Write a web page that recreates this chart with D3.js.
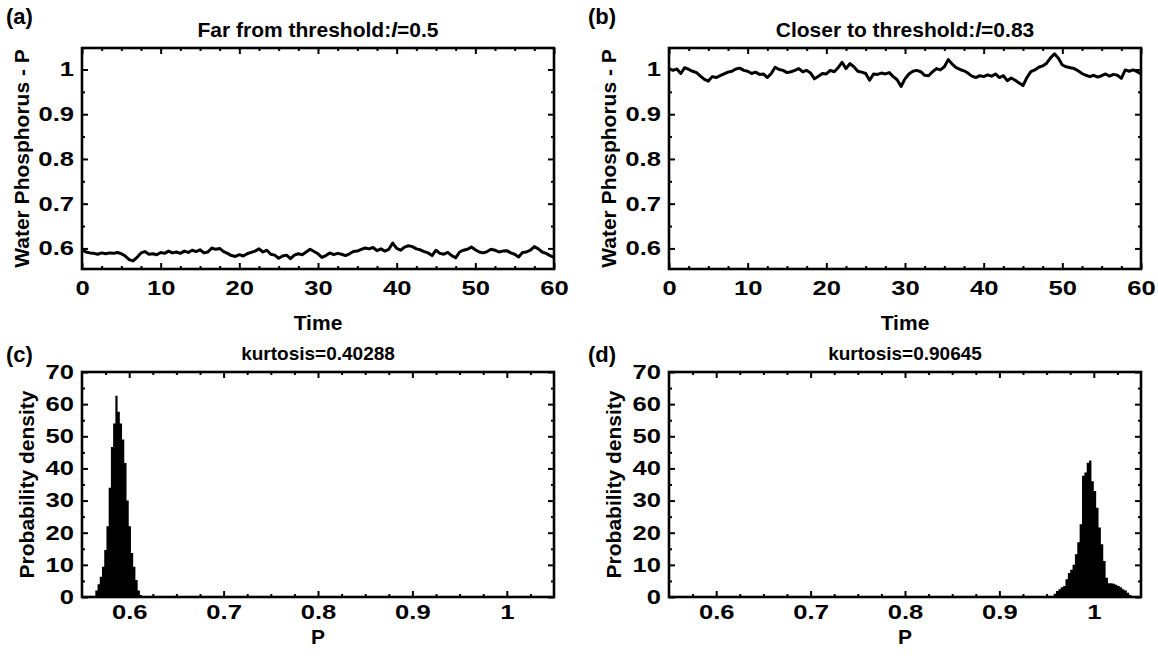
<!DOCTYPE html>
<html>
<head>
<meta charset="utf-8">
<script src="https://cdn.jsdelivr.net/npm/d3@7/dist/d3.min.js"></script>
<style>
  body { margin: 0; background: #fff; }
  svg { font-family: "Liberation Sans", Arial, sans-serif; font-weight: bold; }
  .tick line { stroke: #000; stroke-width: 2; }
</style>
</head>
<body>
<svg id="chart" width="1158" height="661"></svg>
<script>
// time axis of the two series (step 0.5)
const timeStep = 0.5;

// (a) far from threshold, l = 0.5
const seriesFar = [
  0.598, 0.592, 0.590, 0.589, 0.587, 0.590, 0.588, 0.590, 0.589, 0.591,
  0.588, 0.583, 0.575, 0.572, 0.580, 0.590, 0.593, 0.587, 0.588, 0.586,
  0.591, 0.589, 0.594, 0.590, 0.592, 0.589, 0.594, 0.591, 0.596, 0.593,
  0.597, 0.590, 0.592, 0.601, 0.598, 0.600, 0.593, 0.589, 0.584, 0.582,
  0.586, 0.583, 0.588, 0.591, 0.594, 0.599, 0.592, 0.596, 0.587, 0.585,
  0.578, 0.583, 0.585, 0.577, 0.585, 0.588, 0.586, 0.592, 0.598, 0.593,
  0.588, 0.580, 0.584, 0.590, 0.586, 0.589, 0.587, 0.584, 0.588, 0.593,
  0.594, 0.598, 0.601, 0.599, 0.602, 0.595, 0.599, 0.594, 0.598, 0.612,
  0.600, 0.596, 0.603, 0.606, 0.604, 0.599, 0.597, 0.593, 0.590, 0.584,
  0.596, 0.589, 0.587, 0.591, 0.584, 0.579, 0.592, 0.596, 0.598, 0.603,
  0.597, 0.592, 0.590, 0.593, 0.598, 0.596, 0.592, 0.594, 0.595, 0.590,
  0.587, 0.581, 0.591, 0.592, 0.596, 0.604, 0.599, 0.592, 0.589, 0.584,
  0.580
];

// (b) closer to threshold, l = 0.83
const seriesClose = [
  1.002, 0.998, 1.001, 0.991, 1.004, 1.000, 0.996, 0.993, 0.985, 0.978,
  0.974, 0.984, 0.982, 0.986, 0.990, 0.994, 0.996, 1.001, 1.003, 0.998,
  0.996, 0.991, 0.994, 0.989, 0.990, 0.982, 0.991, 1.005, 1.000, 0.998,
  0.993, 0.995, 0.998, 1.002, 0.995, 0.998, 0.992, 0.979, 0.985, 0.991,
  0.990, 0.998, 0.995, 1.004, 1.016, 1.002, 1.013, 1.006, 0.996, 0.994,
  0.991, 0.976, 0.990, 0.989, 0.992, 0.990, 0.993, 0.984, 0.977, 0.962,
  0.979, 0.990, 0.996, 0.998, 0.995, 0.987, 0.986, 0.995, 1.002, 0.999,
  1.006, 1.022, 1.012, 1.004, 1.000, 0.997, 0.992, 0.985, 0.982, 0.986,
  0.984, 0.988, 0.985, 0.990, 0.982, 0.986, 0.975, 0.981, 0.976, 0.970,
  0.964, 0.982, 0.995, 0.999, 1.005, 1.008, 1.014, 1.026, 1.035, 1.025,
  1.010, 1.006, 1.004, 1.002, 0.997, 0.991, 0.987, 0.984, 0.987, 0.983,
  0.986, 0.990, 0.985, 0.989, 0.987, 0.980, 0.999, 0.996, 0.999, 0.995,
  0.990
];

// (c) histogram of P, far from threshold
const histFarStart = 0.5641;
const histFarWidth = 0.00236;
const histFarDensity = [
  2, 4, 6.3, 9.4, 14.6, 22, 34, 46.7, 54, 62.6,
  57.6, 54, 49, 41.7, 30, 22, 13.7, 9.4, 5.3, 2, 0.6
];

// (d) histogram of P, closer to threshold
const histCloseStart = 0.9575;
const histCloseWidth = 0.0025;
const histCloseDensity = [
  1.0, 1.9, 2.4, 3.0, 3.4, 5.5, 7.5, 8.5, 10, 13.3,
  17, 22.6, 37.7, 38.7, 41.8, 42.5, 36, 33, 27.8, 21.6,
  16.4, 11.2, 6, 4.3, 4.3, 4.1, 3.8, 3.4, 3.0, 2.4,
  2.0, 1.3, 0.6
];

const titles = ["Far from threshold:", "Closer to threshold:", "kurtosis=0.40288", "kurtosis=0.90645"];
const titleParam = ["0.5", "0.83"];
const letters = ["(a)", "(b)", "(c)", "(d)"];

const timeTicks = [0, 10, 20, 30, 40, 50, 60];
const timeMinor = [2.5, 5, 7.5, 12.5, 15, 17.5, 22.5, 25, 27.5, 32.5, 35, 37.5, 42.5, 45, 47.5, 52.5, 55, 57.5];
const pTicks = [0.6, 0.7, 0.8, 0.9, 1];
const pTickLabels = ["0.6", "0.7", "0.8", "0.9", "1"];
const pMinor = [0.575, 0.625, 0.65, 0.675, 0.725, 0.75, 0.775, 0.825, 0.85, 0.875, 0.925, 0.95, 0.975, 1.025];
const pMinorTs = [0.65, 0.75, 0.85, 0.95];
const densTicks = [0, 10, 20, 30, 40, 50, 60, 70];
const densMinor = [5, 15, 25, 35, 45, 55, 65];

const svg = d3.select("#chart");

const boxes = [
  {x: 82, y: 48, w: 472, h: 221},
  {x: 669, y: 48, w: 472, h: 221},
  {x: 82, y: 372, w: 472, h: 225},
  {x: 669, y: 372, w: 472, h: 225}
];

function frame(g, box, xScale, yScale, xMaj, xMin, yMaj, yMin, xFmt, yFmt, xPad) {
  const addAxis = (axis, tr, origin) => {
    const a = g.append("g").attr("transform", tr).call(axis);
    a.select(".domain").remove();
    a.attr("font-family", null).attr("font-size", null);
    // the original digits are drawn wide and heavy
    a.selectAll("text")
      .style("font-family", "'Liberation Sans', Arial, sans-serif")
      .style("font-size", "20px")
      .style("font-weight", "bold")
      .style("transform-box", "fill-box")
      .style("transform-origin", origin)
      .style("transform", "scaleX(1.28)")
      .attr("fill", "#000");
    return a;
  };
  // bottom + left with labels
  addAxis(d3.axisBottom(xScale).tickValues(xMaj).tickSize(-6).tickPadding(xPad).tickFormat(xFmt),
    `translate(0,${box.h})`, "center");
  addAxis(d3.axisBottom(xScale).tickValues(xMin).tickSize(-3).tickFormat(""),
    `translate(0,${box.h})`, "center");
  addAxis(d3.axisLeft(yScale).tickValues(yMaj).tickSize(-6).tickPadding(8).tickFormat(yFmt),
    "translate(0,0)", "right center");
  addAxis(d3.axisLeft(yScale).tickValues(yMin).tickSize(-3).tickFormat(""),
    "translate(0,0)", "right center");
  // mirrored top + right, no labels
  addAxis(d3.axisTop(xScale).tickValues(xMaj).tickSize(-6).tickFormat(""), "translate(0,0)", "center");
  addAxis(d3.axisTop(xScale).tickValues(xMin).tickSize(-3).tickFormat(""), "translate(0,0)", "center");
  addAxis(d3.axisRight(yScale).tickValues(yMaj).tickSize(-6).tickFormat(""), `translate(${box.w},0)`, "center");
  addAxis(d3.axisRight(yScale).tickValues(yMin).tickSize(-3).tickFormat(""), `translate(${box.w},0)`, "center");

  g.append("rect")
    .attr("width", box.w).attr("height", box.h)
    .attr("fill", "none").attr("stroke", "#000").attr("stroke-width", 2.6);
}

// time series panels
[seriesFar, seriesClose].forEach((series, i) => {
  const box = boxes[i];
  const g = svg.append("g").attr("transform", `translate(${box.x},${box.y})`);
  const x = d3.scaleLinear().domain([0, 60]).range([0, box.w]);
  const y = d3.scaleLinear().domain([0.554, 1.048]).range([box.h, 0]);

  g.append("path")
    .datum(series)
    .attr("fill", "none")
    .attr("stroke", "#000")
    .attr("stroke-width", 3)
    .attr("stroke-linejoin", "round")
    .attr("d", d3.line().x((d, k) => x(k * timeStep)).y(d => y(d)));

  frame(g, box, x, y, timeTicks, timeMinor, [0.6, 0.7, 0.8, 0.9, 1], pMinorTs,
    d => d, d => (d === 1 ? "1" : d3.format(".1f")(d)), 12);

  g.append("text")
    .attr("x", box.w / 2).attr("y", box.h + 61)
    .attr("text-anchor", "middle").attr("font-size", 21)
    .text("Time");

  g.append("text")
    .attr("transform", `translate(${-53},${box.h / 2}) rotate(-90)`)
    .attr("text-anchor", "middle").attr("font-size", 21)
    .text("Water Phosphorus - P");

  const t = g.append("text")
    .attr("x", box.w / 2).attr("y", -11)
    .attr("text-anchor", "middle").attr("font-size", 21);
  t.append("tspan").text(titles[i]);
  t.append("tspan").attr("font-style", "italic").text("l");
  t.append("tspan").text("=" + titleParam[i]);
});

// histogram panels
[[histFarStart, histFarWidth, histFarDensity], [histCloseStart, histCloseWidth, histCloseDensity]]
  .forEach(([start, width, dens], j) => {
    const i = j + 2;
    const box = boxes[i];
    const g = svg.append("g").attr("transform", `translate(${box.x},${box.y})`);
    const x = d3.scaleLinear().domain([0.55, 1.05]).range([0, box.w]);
    const y = d3.scaleLinear().domain([0, 70]).range([box.h, 0]);

    // step outline of the bins, closed to the baseline
    const steps = dens.map((d, k) => [start + k * width, d]);
    steps.push([start + dens.length * width, dens[dens.length - 1]]);
    g.append("path")
      .datum(steps)
      .attr("fill", "#000")
      .attr("d", d3.area().curve(d3.curveStepAfter)
        .x(d => x(d[0])).y0(box.h).y1(d => y(d[1])));

    frame(g, box, x, y, pTicks, pMinor, densTicks, densMinor,
      (d, k) => pTickLabels[k], d => d, 8);

    g.append("text")
      .attr("x", box.w / 2).attr("y", box.h + 47)
      .attr("text-anchor", "middle").attr("font-size", 21)
      .text("P");

    g.append("text")
      .attr("transform", `translate(${-48},${box.h / 2}) rotate(-90)`)
      .attr("text-anchor", "middle").attr("font-size", 21)
      .text("Probability density");

    g.append("text")
      .attr("x", box.w / 2).attr("y", -12)
      .attr("text-anchor", "middle").attr("font-size", 19)
      .text(titles[i]);
  });

// panel letters
[[6, 24], [588, 24], [6, 362], [588, 362]].forEach((p, i) => {
  svg.append("text")
    .attr("x", p[0]).attr("y", p[1])
    .attr("font-size", 22)
    .text(letters[i]);
});
</script>
</body>
</html>
